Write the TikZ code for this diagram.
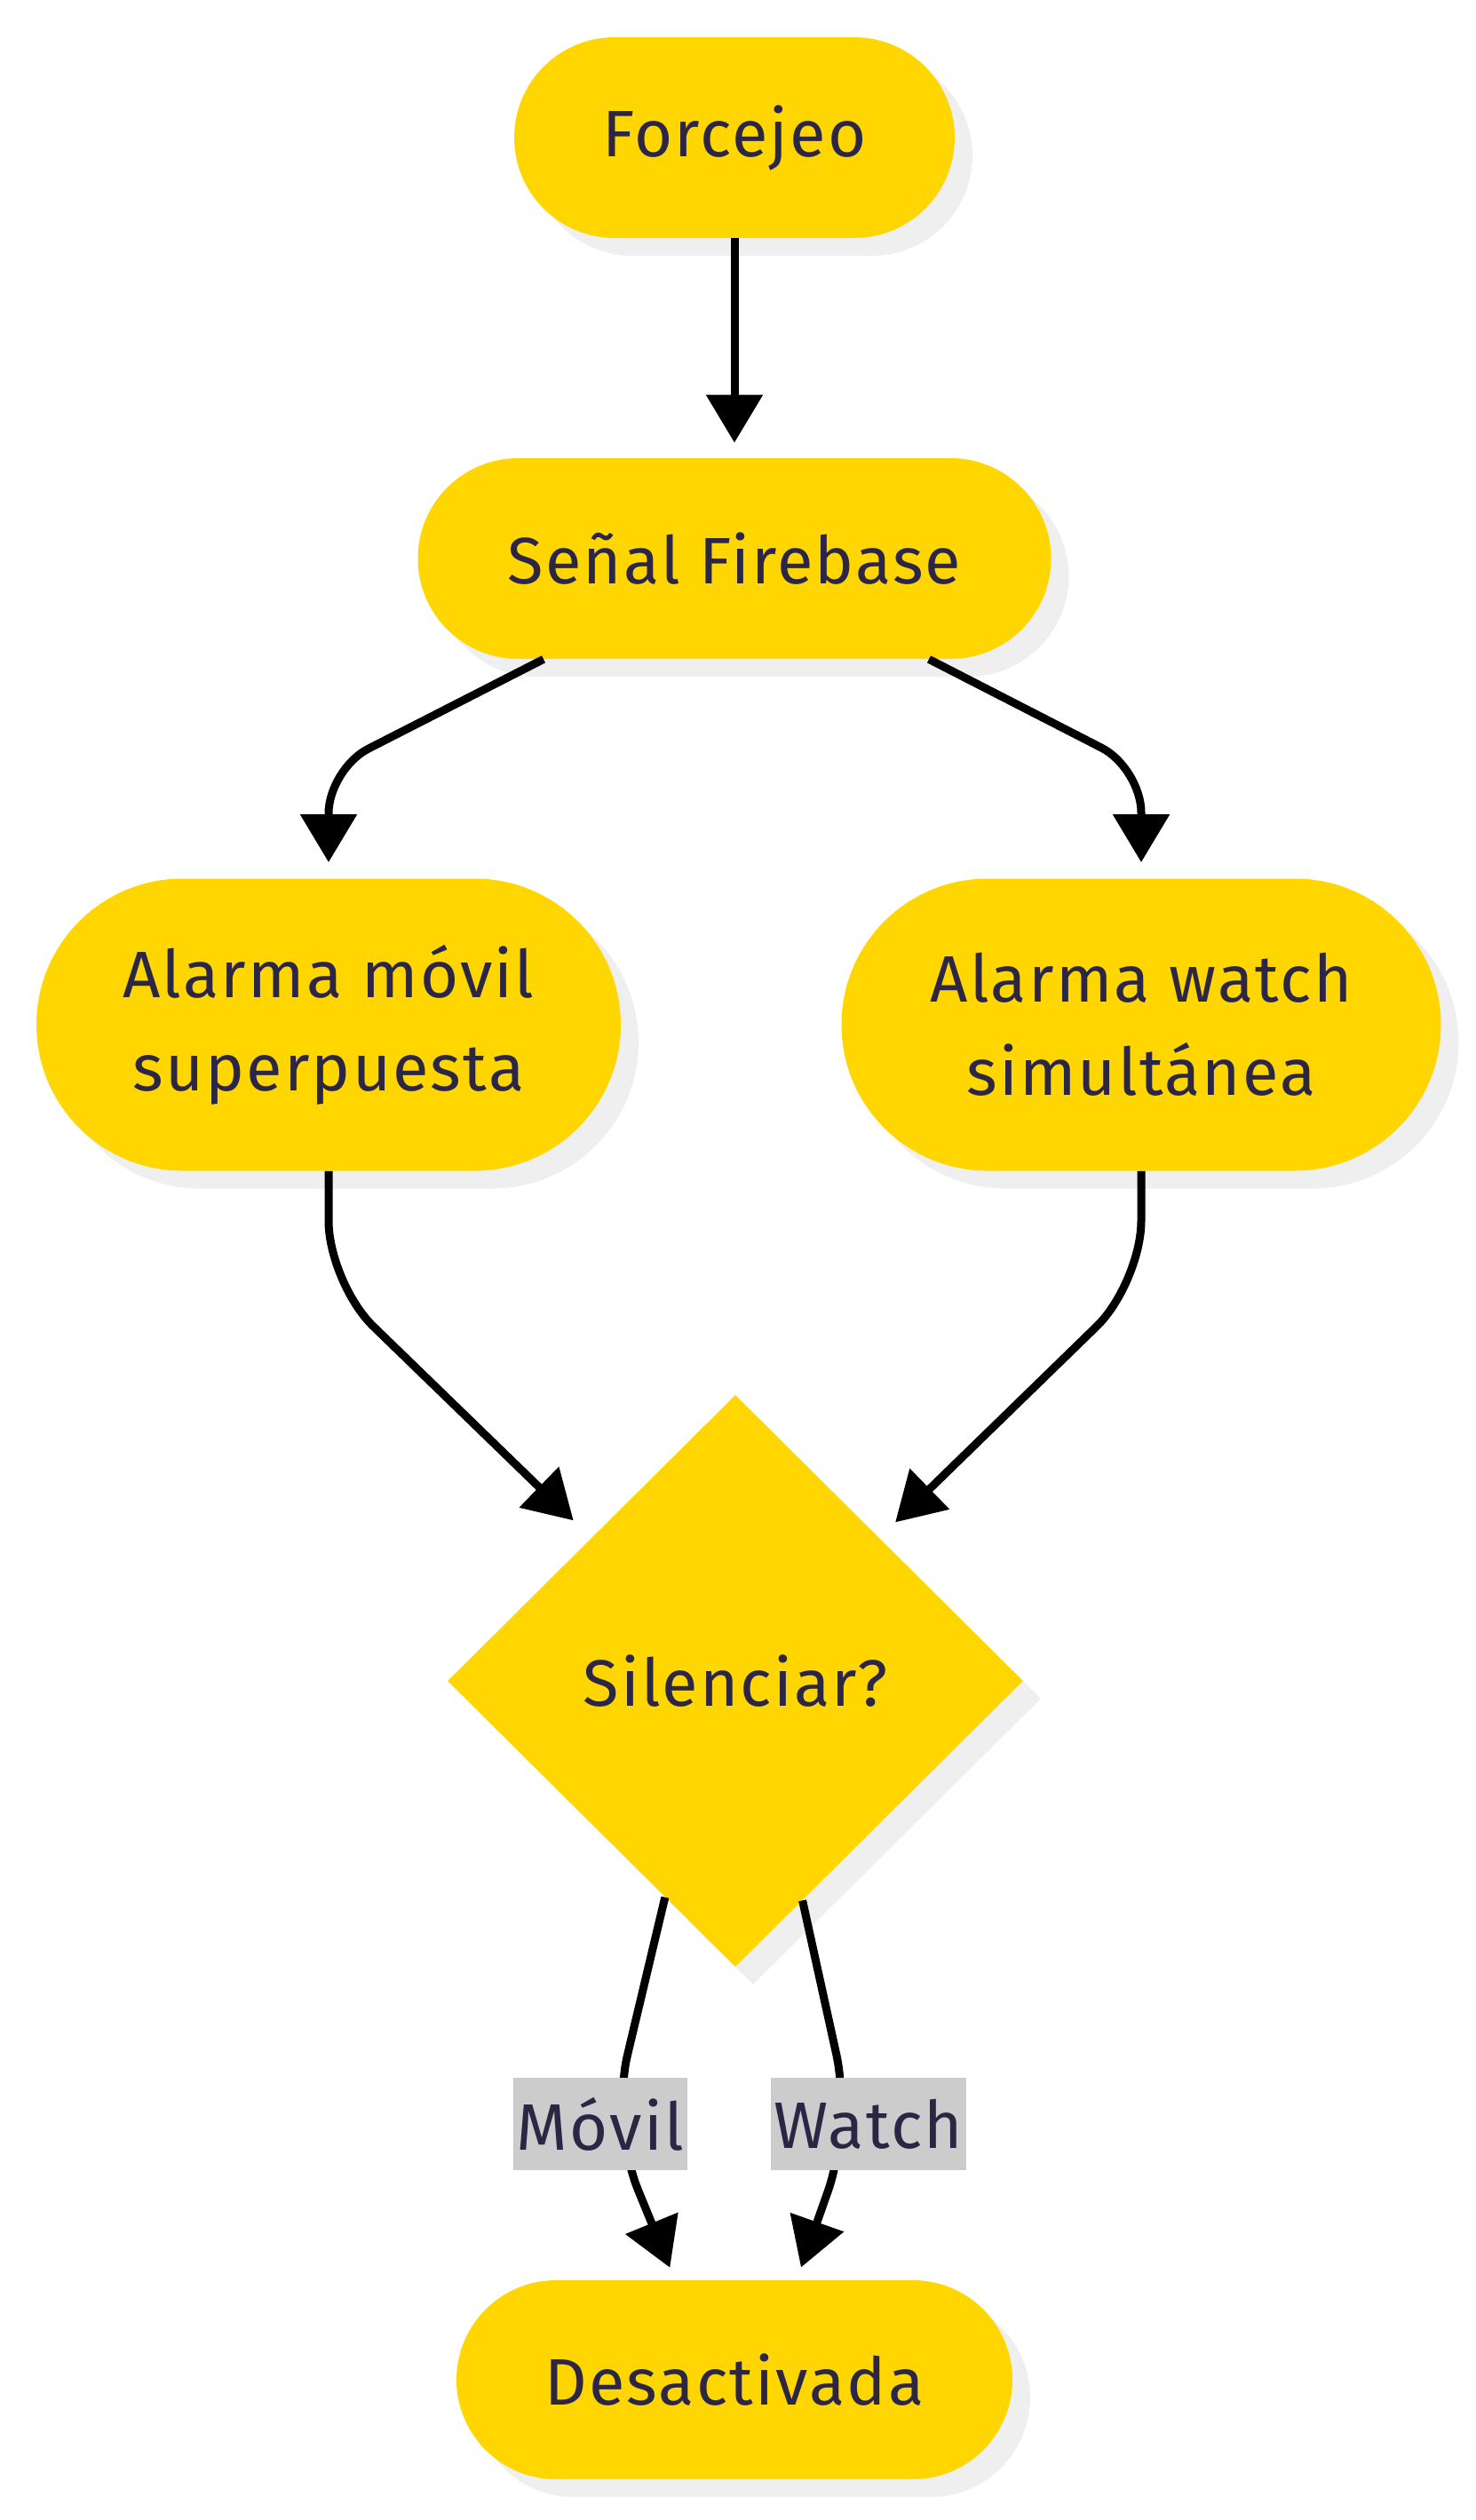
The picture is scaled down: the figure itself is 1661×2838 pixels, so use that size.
\documentclass[tikz,border=0pt]{standalone}
\usepackage{fontspec}
\setmainfont[LetterSpace=3]{Fira Sans}
\usetikzlibrary{shapes.geometric,arrows.meta,shadows}

\definecolor{gold}{HTML}{FFD600}
\definecolor{ink}{HTML}{2A2643}
\definecolor{shade}{HTML}{EFEFEF}
\definecolor{lblgray}{HTML}{CCCCCC}

\tikzset{
	flow/.style={draw=black,line width=4.5pt,-{Triangle[length=27pt,width=31pt]}},
	pill/.style={rectangle,minimum height=#1,rounded corners=#1/2},
	lbl/.style={fill=lblgray,inner xsep=2pt,inner ysep=0pt,minimum height=52pt}
}

\begin{document}
\begin{tikzpicture}[x=0.5pt,y=-0.5pt]
	\useasboundingbox (0,0) rectangle (1661,2838);
	\begin{scope}[node font=\fontsize{37}{52.5}\selectfont,text=ink]
		\begin{scope}[every node/.style={fill=gold,align=center,drop shadow={shadow xshift=10pt,shadow yshift=-10pt,fill=shade,opacity=1}}]
			\node[pill=113pt,minimum width=248pt] (fj) at (827,155) {Forcejeo};
			\node[pill=113pt,minimum width=356.5pt] (sf) at (827,629) {Señal Firebase};
			\node[pill=164.5pt,minimum width=329pt] (am) at (370,1154) {Alarma móvil\\superpuesta};
			\node[pill=164.5pt,minimum width=337.5pt] (aw) at (1285,1154) {Alarma watch\\simultánea};
			\node[diamond,minimum width=324pt,minimum height=322pt] (dia) at (828,1893) {Silenciar?};
			\node[pill=112pt,minimum width=313pt] (ds) at (827,2680) {Desactivada};
		\end{scope}

		\coordinate (mvk) at (688,2392);
		\coordinate (wtk) at (959,2392);

		\draw[flow,shorten >=8.5pt] (fj) -- (sf);
		\draw[flow,rounded corners=25pt,shorten >=9pt] ([xshift=-107.5pt]sf.south) -- ([yshift=61.5pt]am.north) -- (am.north);
		\draw[flow,rounded corners=25pt,shorten >=9pt] ([xshift=109.5pt]sf.south) -- ([yshift=62pt]aw.north) -- (aw.north);
		\draw[flow,rounded corners=35pt,shorten >=14pt] (am.south) -- ([yshift=-63pt]am.south) -- (dia.north west);
		\draw[flow,rounded corners=35pt,shorten >=12.5pt] (aw.south) -- ([yshift=-63pt]aw.south) -- (dia.north east);
		\draw[flow,rounded corners=40pt,shorten >=7.5pt] (dia.-108) -- (mvk) -- ([xshift=-33.5pt]ds.north);
		\draw[flow,rounded corners=40pt,shorten >=7.5pt] (dia.-73) -- (wtk) -- ([xshift=35pt]ds.north);

		\node[lbl,xshift=-6pt] (mv) at (mvk) {Móvil};
		\node[lbl,xshift=9.5pt] (wt) at (wtk) {Watch};
	\end{scope}
\end{tikzpicture}
\end{document}
